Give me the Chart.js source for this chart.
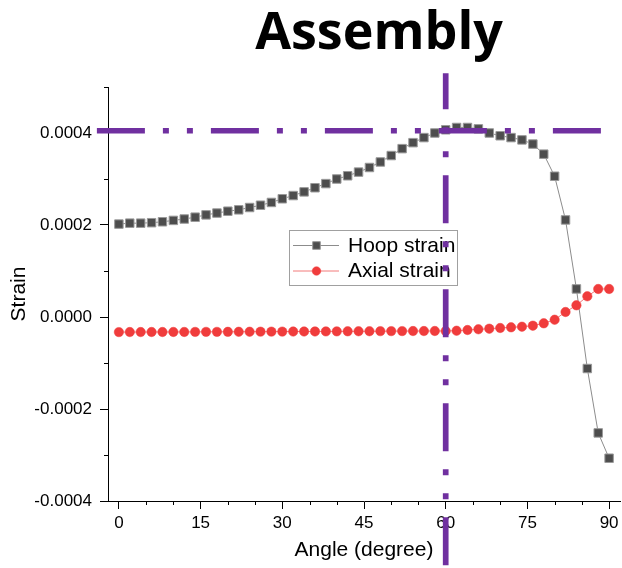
<!DOCTYPE html>
<html>
<head>
<meta charset="utf-8">
<script src="https://cdn.jsdelivr.net/npm/chart.js@4/dist/chart.umd.min.js"></script>
<style>
  html, body { margin: 0; padding: 0; background: #fff; }
  #wrap { width: 622px; height: 568px; }
</style>
</head>
<body>
<div id="wrap"><canvas id="c" width="622" height="568"></canvas></div>
<script>
// ---- data ----
const chartTitle = 'Assembly';
const xAxisTitle = 'Angle (degree)';
const yAxisTitle = 'Strain';
const seriesNames = ['Hoop strain', 'Axial strain'];

const angles = [0, 2, 4, 6, 8, 10, 12, 14, 16, 18, 20, 22, 24, 26, 28, 30, 32, 34, 36, 38, 40, 42, 44,
  46, 48, 50, 52, 54, 56, 58, 60, 62, 64, 66, 68, 70, 72, 74, 76, 78, 80, 82, 84, 86, 88, 90];

const hoopStrain = [0.000202, 0.000204, 0.000204, 0.000205, 0.000207, 0.000210, 0.000213, 0.000217,
  0.000222, 0.000226, 0.000230, 0.000233, 0.000238, 0.000243, 0.000249, 0.000257, 0.000264, 0.000272,
  0.000281, 0.000290, 0.000300, 0.000307, 0.000315, 0.000325, 0.000337, 0.000351, 0.000366, 0.000379,
  0.000390, 0.000400, 0.000407, 0.000412, 0.000412, 0.000409, 0.000400, 0.000394, 0.000390, 0.000385,
  0.000376, 0.000354, 0.000306, 0.000211, 0.000061, -0.000112, -0.000252, -0.000307];

const axialStrain = [-0.0000328, -0.0000327, -0.0000327, -0.0000326, -0.0000326, -0.0000325, -0.0000325,
  -0.0000324, -0.0000323, -0.0000323, -0.0000322, -0.0000321, -0.0000320, -0.0000319, -0.0000318,
  -0.0000317, -0.0000316, -0.0000315, -0.0000314, -0.0000313, -0.0000312, -0.0000311, -0.0000310,
  -0.0000309, -0.0000308, -0.0000307, -0.0000306, -0.0000305, -0.0000305, -0.0000304, -0.0000304,
  -0.0000298, -0.0000283, -0.0000267, -0.0000254, -0.0000239, -0.0000224, -0.0000211, -0.0000189,
  -0.0000137, -0.0000059, 0.0000109, 0.0000254, 0.0000450, 0.0000609, 0.0000609];

// reference lines (peak hoop strain level and 60 degree angle)
const refStrain = 0.000405;
const refStrainLineAngles = [-4.04, 88.5];
const refAngle = 60;
const refAngleLineStrains = [0.00053, -0.00058];

// axis ticks
const xTickValues = [0, 15, 30, 45, 60, 75, 90];
const xMinorTickValues = [5, 10, 20, 25, 35, 40, 50, 55, 65, 70, 80, 85];
const yTickValues = [-0.0004, -0.0002, 0, 0.0002, 0.0004];
const yMinorTickValues = [-0.0003, -0.0001, 0.0001, 0.0003, 0.0005];

// ---- styles ----
const FONT = "'Liberation Sans', Arial, sans-serif";
const PURPLE = '#7030a0';
const HOOP_FILL = '#4d4d4d';
const HOOP_LINE = '#8c8c8c';
const AXIAL_FILL = '#f03c3c';
const AXIAL_LINE = '#f27a7a';

const titlePlugin = {
  id: 'bigTitle',
  afterDraw(chart) {
    const ctx = chart.ctx;
    ctx.save();
    ctx.font = "700 52px 'Open Sans', 'Liberation Sans', sans-serif";
    ctx.fillStyle = '#000';
    ctx.textAlign = 'center';
    ctx.textBaseline = 'alphabetic';
    ctx.fillText(chartTitle, 379, 49);
    ctx.restore();
  }
};

const minorTicksPlugin = {
  id: 'minorTicks',
  afterDraw(chart) {
    const ctx = chart.ctx;
    const xs = chart.scales.x, ys = chart.scales.y;
    const a = chart.chartArea;
    ctx.save();
    ctx.strokeStyle = '#000';
    ctx.lineWidth = 1;
    ctx.beginPath();
    xMinorTickValues.forEach(v => {
      const px = Math.round(xs.getPixelForValue(v)) + 0.5;
      ctx.moveTo(px, a.bottom);
      ctx.lineTo(px, a.bottom + 4);
    });
    yMinorTickValues.forEach(v => {
      const py = Math.round(ys.getPixelForValue(v)) + 0.5;
      ctx.moveTo(a.left, py);
      ctx.lineTo(a.left - 4, py);
    });
    ctx.stroke();
    ctx.restore();
  }
};

const boxLegendPlugin = {
  id: 'boxLegend',
  beforeDatasetsDraw(chart) {
    const ctx = chart.ctx;
    const box = { left: 289.5, top: 230.5, width: 168, height: 55 };
    const rows = [245, 270.5];
    ctx.save();
    ctx.fillStyle = '#fff';
    ctx.fillRect(box.left, box.top, box.width, box.height);
    ctx.strokeStyle = '#a0a0a0';
    ctx.lineWidth = 1;
    ctx.strokeRect(box.left, box.top, box.width, box.height);
    const entries = chart.data.datasets.filter(d => seriesNames.includes(d.label))
      .sort((p, q) => seriesNames.indexOf(p.label) - seriesNames.indexOf(q.label));
    entries.forEach((ds, i) => {
      const y = rows[i];
      ctx.strokeStyle = ds.borderColor;
      ctx.lineWidth = 1;
      ctx.beginPath();
      ctx.moveTo(293, y + 0.5);
      ctx.lineTo(339, y + 0.5);
      ctx.stroke();
      ctx.fillStyle = ds.pointBackgroundColor;
      ctx.strokeStyle = ds.pointBorderColor;
      ctx.lineWidth = ds.pointBorderWidth;
      Chart.helpers.drawPoint(ctx, {
        pointStyle: ds.pointStyle,
        radius: ds.pointStyle === 'rect' ? 5.4 : 4.3,
        borderWidth: ds.pointBorderWidth,
        rotation: 0
      }, 316.5, y + 0.5);
      ctx.fillStyle = '#000';
      ctx.font = '21px ' + FONT;
      ctx.textAlign = 'left';
      ctx.textBaseline = 'middle';
      ctx.fillText(ds.label, 348, y + 1);
    });
    ctx.restore();
  }
};

const xy = (xsArr, ysArr) => xsArr.map((x, i) => ({ x, y: ysArr[i] }));

new Chart(document.getElementById('c'), {
  type: 'line',
  data: {
    datasets: [
      {
        label: 'ref-angle',
        data: refAngleLineStrains.map(s => ({ x: refAngle, y: s })),
        borderColor: PURPLE,
        borderWidth: 5.7,
        borderDash: [48, 18, 6, 18, 6, 18],
        borderDashOffset: 12,
        borderCapStyle: 'butt',
        pointRadius: 0,
        clip: false,
        tension: 0
      },
      {
        label: 'ref-strain',
        data: refStrainLineAngles.map(a => ({ x: a, y: refStrain })),
        borderColor: PURPLE,
        borderWidth: 5.5,
        borderDash: [48, 18, 6, 18, 6, 18],
        borderCapStyle: 'butt',
        pointRadius: 0,
        clip: false,
        tension: 0
      },
      {
        label: seriesNames[1],
        data: xy(angles, axialStrain),
        borderColor: AXIAL_LINE,
        borderWidth: 1,
        pointStyle: 'circle',
        pointRadius: 4.7,
        pointBackgroundColor: AXIAL_FILL,
        pointBorderColor: AXIAL_FILL,
        pointBorderWidth: 0.5,
        tension: 0
      },
      {
        label: seriesNames[0],
        data: xy(angles, hoopStrain),
        borderColor: HOOP_LINE,
        borderWidth: 1,
        pointStyle: 'rect',
        pointRadius: 6,
        pointBackgroundColor: HOOP_FILL,
        pointBorderColor: '#9a9a9a',
        pointBorderWidth: 1,
        tension: 0
      }
    ]
  },
  options: {
    responsive: false,
    animation: false,
    devicePixelRatio: 1,
    layout: { autoPadding: false, padding: { top: 87, right: 2, left: 0, bottom: 0 } },
    plugins: {
      legend: { display: false },
      tooltip: { enabled: false },
      title: { display: false }
    },
    scales: {
      x: {
        type: 'linear',
        min: -2,
        max: 92,
        afterFit(scale) {
          scale.height = 67;
          scale.paddingLeft = 0; scale.paddingRight = 0;
          scale.paddingTop = 0; scale.paddingBottom = 0;
        },
        afterBuildTicks(scale) { scale.ticks = xTickValues.map(v => ({ value: v })); },
        grid: { display: true, drawOnChartArea: false, drawTicks: true, tickLength: 8, tickColor: '#000', tickWidth: 1 },
        border: { display: true, color: '#000', width: 1 },
        ticks: { color: '#000', font: { family: FONT, size: 17 }, padding: 4, maxRotation: 0, autoSkip: false,
          callback: v => String(v) },
        title: { display: true, text: xAxisTitle, color: '#000', font: { family: FONT, size: 21 }, padding: { top: 0, bottom: 5 } }
      },
      y: {
        type: 'linear',
        min: -0.0004,
        max: 0.0005,
        afterFit(scale) {
          scale.width = 108;
          scale.paddingLeft = 0; scale.paddingRight = 0;
          scale.paddingTop = 0; scale.paddingBottom = 0;
        },
        afterBuildTicks(scale) { scale.ticks = yTickValues.map(v => ({ value: v })); },
        grid: { display: true, drawOnChartArea: false, drawTicks: true, tickLength: 8, tickColor: '#000', tickWidth: 1 },
        border: { display: true, color: '#000', width: 1 },
        ticks: { color: '#000', font: { family: FONT, size: 17 }, padding: 8, autoSkip: false,
          callback: v => Number(v).toFixed(4) },
        title: { display: true, text: yAxisTitle, color: '#000', font: { family: FONT, size: 21 }, padding: { top: 7, bottom: 0 } }
      }
    }
  },
  plugins: [titlePlugin, minorTicksPlugin, boxLegendPlugin]
});
</script>
</body>
</html>
